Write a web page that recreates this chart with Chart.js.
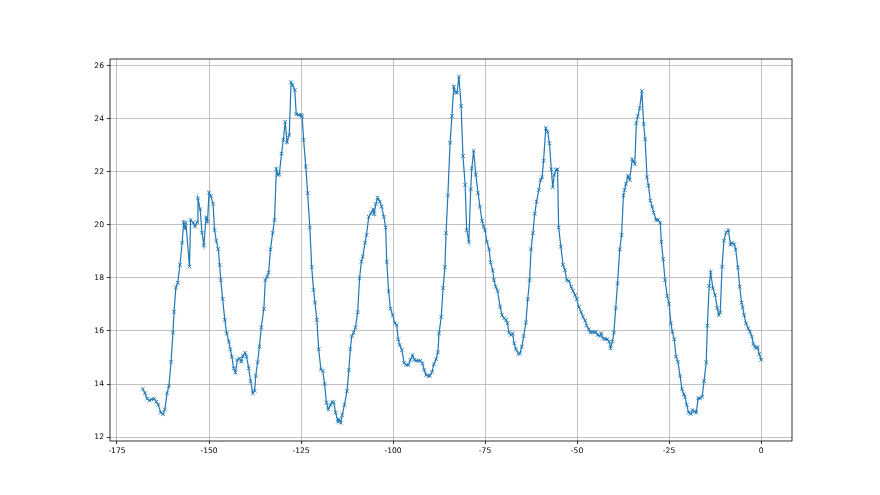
<!DOCTYPE html>
<html>
<head>
<meta charset="utf-8">
<script src="https://cdn.jsdelivr.net/npm/chart.js@4/dist/chart.umd.min.js"></script>
<style>
  html, body { margin: 0; padding: 0; background: #ffffff; }
  #wrap { width: 880px; height: 495px; }
</style>
</head>
<body>
<div id="wrap"><canvas id="myChart" width="880" height="495"></canvas></div>
<script>
const xValues = [
  -168.0, -167.4, -166.8, -166.2, -165.6, -164.9, -164.3, -163.8, -163.1, -162.5,
  -162.0, -161.4, -160.9, -160.3, -159.8, -159.5, -159.0, -158.5, -157.9, -157.3,
  -156.9, -156.5, -156.3, -155.3, -155.0, -154.3, -153.8, -153.2, -153.0, -152.4,
  -151.9, -151.4, -150.8, -150.4, -150.0, -149.5, -148.9, -148.5, -148.0, -147.5,
  -147.1, -146.8, -146.3, -145.7, -145.2, -144.6, -144.2, -143.8, -143.3, -142.8,
  -142.3, -141.7, -141.2, -140.8, -140.2, -139.8, -139.2, -138.7, -138.1, -137.6,
  -137.3, -136.8, -136.3, -135.8, -135.1, -134.7, -134.2, -133.8, -133.3, -132.7,
  -132.2, -131.7, -131.3, -130.9, -130.3, -129.8, -129.3, -128.8, -128.2, -127.7,
  -127.3, -126.7, -126.3, -125.6, -125.0, -124.7, -124.3, -123.7, -123.2, -122.6,
  -122.1, -121.6, -121.2, -120.7, -120.2, -119.6, -119.1, -118.6, -118.1, -117.6,
  -117.0, -116.5, -116.1, -115.6, -115.0, -114.7, -114.2, -113.8, -113.2, -112.5,
  -112.0, -111.6, -111.2, -110.7, -110.2, -109.6, -109.1, -108.6, -108.2, -107.6,
  -107.2, -106.6, -106.0, -105.4, -105.1, -104.7, -104.2, -103.6, -103.1, -102.5,
  -102.0, -101.7, -101.2, -100.7, -100.1, -99.5, -99.0, -98.6, -98.2, -97.6,
  -97.0, -96.4, -95.8, -95.3, -94.7, -94.2, -93.7, -93.1, -92.6, -92.0,
  -91.5, -91.0, -90.4, -90.0, -89.4, -88.9, -88.3, -87.8, -87.5, -86.9,
  -86.4, -85.9, -85.6, -85.1, -84.5, -84.0, -83.5, -83.0, -82.6, -82.1,
  -81.5, -81.0, -80.4, -80.0, -79.4, -78.9, -78.6, -78.1, -77.5, -76.9,
  -76.4, -75.8, -75.4, -75.0, -74.5, -73.9, -73.5, -72.9, -72.6, -72.1,
  -71.6, -70.9, -70.4, -69.8, -69.3, -68.9, -68.5, -68.0, -67.5, -67.1,
  -66.6, -65.9, -65.5, -65.0, -64.5, -63.9, -63.4, -62.9, -62.5, -62.0,
  -61.5, -61.0, -60.4, -59.9, -59.5, -59.1, -58.5, -58.0, -57.5, -57.0,
  -56.6, -56.2, -55.7, -55.3, -55.0, -54.4, -53.8, -53.3, -52.8, -52.2,
  -51.6, -51.1, -50.5, -50.1, -49.5, -48.9, -48.4, -47.8, -47.4, -46.8,
  -46.4, -45.8, -45.4, -44.9, -44.4, -43.8, -43.4, -42.9, -42.4, -41.8,
  -41.3, -40.9, -40.4, -40.0, -39.5, -39.0, -38.4, -37.9, -37.4, -37.1,
  -36.7, -36.2, -35.7, -35.0, -34.3, -33.9, -33.5, -33.0, -32.4, -31.9,
  -31.5, -31.0, -30.6, -30.1, -29.6, -29.2, -28.5, -28.0, -27.4, -27.1,
  -26.6, -26.1, -25.5, -25.0, -24.5, -24.1, -23.6, -23.1, -22.6, -22.0,
  -21.5, -21.0, -20.7, -20.2, -19.7, -19.1, -18.6, -18.1, -17.6, -17.1,
  -16.6, -16.0, -15.5, -14.9, -14.6, -14.1, -13.7, -13.1, -12.5, -11.9,
  -11.5, -11.1, -10.6, -10.1, -9.5, -8.9, -8.3, -7.9, -7.3, -6.9,
  -6.3, -5.8, -5.3, -5.0, -4.6, -4.1, -3.5, -3.0, -2.5, -2.1,
  -1.7, -1.4, -0.9, -0.5, 0.0
];
const yValues = [
  13.82, 13.65, 13.45, 13.38, 13.42, 13.45, 13.33, 13.22, 12.92, 12.86,
  13.04, 13.65, 13.92, 14.84, 15.94, 16.72, 17.64, 17.82, 18.49, 19.33,
  20.09, 19.86, 20.09, 18.43, 20.19, 20.09, 19.94, 20.11, 21.00, 20.59,
  19.71, 19.23, 20.28, 20.13, 21.22, 21.09, 20.80, 19.81, 19.40, 19.09,
  18.49, 17.92, 17.21, 16.42, 15.91, 15.60, 15.31, 15.03, 14.59, 14.43,
  14.91, 14.97, 14.84, 15.06, 15.18, 15.03, 14.59, 14.11, 13.65, 13.74,
  14.31, 14.82, 15.41, 16.13, 16.83, 17.92, 18.05, 18.21, 19.08, 19.70,
  20.19, 22.11, 21.89, 21.90, 22.69, 23.21, 23.89, 23.12, 23.40, 25.38,
  25.28, 25.09, 24.18, 24.15, 24.15, 24.11, 23.21, 22.20, 21.20, 19.90,
  18.41, 17.55, 17.07, 16.42, 15.31, 14.55, 14.50, 14.00, 13.30, 13.04,
  13.21, 13.33, 13.30, 12.92, 12.58, 12.67, 12.54, 12.83, 13.21, 13.74,
  14.53, 15.32, 15.81, 15.94, 16.14, 16.71, 17.99, 18.62, 18.81, 19.33,
  19.62, 20.31, 20.44, 20.59, 20.41, 20.79, 21.03, 20.88, 20.69, 20.31,
  19.90, 18.60, 17.50, 16.84, 16.60, 16.29, 16.23, 15.69, 15.47, 15.28,
  14.80, 14.72, 14.72, 14.91, 15.09, 14.91, 14.88, 14.88, 14.87, 14.78,
  14.53, 14.34, 14.30, 14.31, 14.46, 14.75, 14.93, 15.20, 15.91, 16.53,
  17.62, 18.41, 19.69, 21.11, 23.10, 24.11, 25.21, 24.99, 24.99, 25.60,
  24.49, 22.60, 21.51, 19.81, 19.37, 21.35, 22.14, 22.80, 21.89, 21.20,
  20.69, 20.15, 19.94, 19.79, 19.37, 19.08, 18.59, 18.28, 17.92, 17.67,
  17.51, 16.92, 16.60, 16.48, 16.42, 16.29, 15.94, 15.85, 15.91, 15.53,
  15.31, 15.13, 15.16, 15.41, 15.81, 16.32, 17.20, 17.92, 19.08, 19.69,
  20.42, 20.88, 21.32, 21.70, 21.80, 22.42, 23.65, 23.52, 23.08, 22.10,
  21.42, 21.89, 22.08, 22.10, 19.90, 19.18, 18.49, 18.30, 17.92, 17.89,
  17.67, 17.51, 17.36, 17.20, 16.90, 16.71, 16.54, 16.39, 16.20, 16.06,
  15.94, 15.97, 15.94, 15.97, 15.85, 15.81, 15.91, 15.72, 15.69, 15.69,
  15.60, 15.35, 15.60, 15.94, 16.86, 17.80, 19.08, 19.62, 21.11, 21.32,
  21.55, 21.85, 21.70, 22.48, 22.30, 23.84, 24.11, 24.40, 25.06, 23.81,
  23.23, 21.80, 21.49, 20.92, 20.69, 20.47, 20.19, 20.19, 20.09, 19.37,
  18.71, 17.92, 17.32, 17.02, 16.29, 15.97, 15.69, 15.03, 14.84, 14.30,
  13.80, 13.61, 13.52, 13.21, 12.92, 12.87, 13.02, 12.96, 12.92, 13.46,
  13.46, 13.52, 14.11, 14.82, 16.20, 17.70, 18.21, 17.61, 17.36, 16.86,
  16.60, 16.70, 18.43, 19.41, 19.72, 19.81, 19.25, 19.33, 19.28, 19.08,
  18.40, 17.67, 17.07, 16.89, 16.60, 16.29, 16.10, 15.97, 15.79, 15.51,
  15.41, 15.35, 15.39, 15.13, 14.91
];
const xTicks = [-175, -150, -125, -100, -75, -50, -25, 0];
const yTicks = [12, 14, 16, 18, 20, 22, 24, 26];

const puntos = xValues.map((x, i) => ({ x: x, y: yValues[i] }));

// Marco completo del área de trazado (estilo matplotlib)
const marco = {
  id: 'marco',
  afterDraw(chart) {
    const a = chart.chartArea;
    const c = chart.ctx;
    c.save();
    c.strokeStyle = '#000000';
    c.lineWidth = 0.8;
    c.strokeRect(a.left, a.top, a.right - a.left, a.bottom - a.top);
    c.restore();
  }
};

const fuente = { family: 'DejaVu Sans', size: 7.6 };

const ctx = document.getElementById('myChart').getContext('2d');
new Chart(ctx, {
  type: 'line',
  data: {
    datasets: [{
      data: puntos,
      borderColor: '#1f77b4',
      borderWidth: 1.2,
      pointStyle: 'crossRot',
      pointRadius: 2.6,
      pointBorderWidth: 0.9,
      pointBorderColor: '#1f77b4',
      pointBackgroundColor: '#1f77b4',
      fill: false,
      tension: 0
    }]
  },
  options: {
    responsive: false,
    animation: false,
    events: [],
    layout: { padding: { left: 75, right: 88, top: 59, bottom: 29 } },
    plugins: { legend: { display: false }, tooltip: { enabled: false } },
    scales: {
      x: {
        type: 'linear',
        min: -176.9,
        max: 8.4,
        afterBuildTicks: axis => { axis.ticks = xTicks.map(v => ({ value: v })); },
        afterFit: scale => { scale.height = 25; },
        ticks: { color: '#000000', font: fuente, padding: 2, maxRotation: 0 },
        grid: { color: '#b0b0b0', lineWidth: 0.8, tickColor: '#000000', tickLength: 3 },
        border: { display: false }
      },
      y: {
        type: 'linear',
        min: 11.85,
        max: 26.26,
        afterBuildTicks: axis => { axis.ticks = yTicks.map(v => ({ value: v })); },
        afterFit: scale => { scale.width = 35; },
        ticks: { color: '#000000', font: fuente, padding: 3 },
        grid: { color: '#b0b0b0', lineWidth: 0.8, tickColor: '#000000', tickLength: 3 },
        border: { display: false }
      }
    }
  },
  plugins: [marco]
});
</script>
</body>
</html>
